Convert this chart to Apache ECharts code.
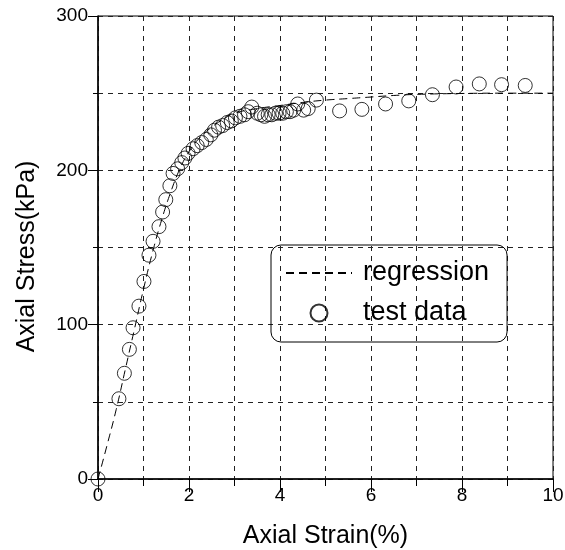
<!DOCTYPE html>
<html>
<head>
<meta charset="utf-8">
<script src="https://cdn.jsdelivr.net/npm/echarts@6/dist/echarts.min.js"></script>
<style>html,body{margin:0;padding:0;background:#fff}#c{width:565px;height:550px}</style>
</head>
<body>
<div id="c"></div>
<script>
const testStrain = [0, 0.46, 0.58, 0.69, 0.77, 0.90, 1.01, 1.12, 1.21, 1.34, 1.42, 1.49, 1.58, 1.65, 1.75, 1.84, 1.91, 1.98, 2.09, 2.18, 2.28, 2.38, 2.48, 2.56, 2.65, 2.74, 2.84, 2.93, 3.02, 3.12, 3.22, 3.30, 3.38, 3.50, 3.58, 3.66, 3.74, 3.82, 3.90, 3.98, 4.06, 4.14, 4.22, 4.30, 4.39, 4.52, 4.62, 4.80, 5.31, 5.80, 6.32, 6.83, 7.35, 7.87, 8.38, 8.87, 9.39];
const testStress = [0, 52, 68.5, 84, 98, 112, 128, 145, 154, 163.5, 173, 181, 190, 198, 201, 205, 208, 211, 214, 216, 218, 220, 223, 226, 228, 229, 231, 232, 234, 235, 236, 238, 241, 237, 236, 235, 236, 236, 237, 237, 237, 238, 238, 239, 243, 239, 240, 245.5, 238.5, 239.5, 243, 245, 249, 254, 256, 255.5, 255];
const regStrain = [0, 0.2, 0.4, 0.6, 0.8, 1.0, 1.2, 1.4, 1.6, 1.8, 2.0, 2.2, 2.5, 2.8, 3.0, 3.5, 4.0, 4.5, 5.0, 5.5, 6.0, 6.5, 7.0, 8.0, 9.0, 10.0];
const regStress = [0, 22, 45, 71, 97, 123, 147, 168, 186, 201, 212, 220, 228, 234, 237, 240, 242, 244, 245.5, 246.5, 247.5, 248.5, 249.2, 249.8, 250, 250];
const xTicks = [0, 2, 4, 6, 8, 10];
const yTicks = [0, 100, 200, 300];

const FONT = '"Liberation Sans", Arial, sans-serif';
const grid = {type: [5, 5], color: '#222', width: 1};
const chart = echarts.init(document.getElementById('c'));
chart.setOption({
  animation: false,
  backgroundColor: '#fff',
  grid: {left: 98, right: 12, top: 16, bottom: 71, show: true, borderColor: '#000', borderWidth: 1, backgroundColor: 'transparent', containLabel: false, outerBoundsMode: 'none'},
  xAxis: {
    type: 'value', min: xTicks[0], max: xTicks[xTicks.length - 1], interval: 2,
    name: 'Axial Strain(%)', nameLocation: 'middle', nameGap: 45,
    nameTextStyle: {fontFamily: FONT, fontSize: 25, color: '#000'},
    axisLine: {lineStyle: {color: '#000', width: 1.5}},
    axisTick: {length: 13, lineStyle: {color: '#000', width: 1}},
    minorTick: {show: true, splitNumber: 2, length: 7, lineStyle: {color: '#000', width: 1}},
    splitLine: {show: true, lineStyle: grid},
    minorSplitLine: {show: true, lineStyle: grid},
    axisLabel: {fontFamily: FONT, fontSize: 19, color: '#000', margin: 7}
  },
  yAxis: {
    type: 'value', min: yTicks[0], max: yTicks[yTicks.length - 1], interval: 100,
    name: 'Axial Stress(kPa)', nameLocation: 'middle', nameGap: 58,
    nameTextStyle: {fontFamily: FONT, fontSize: 25, color: '#000', padding: [0, 18, 0, 0]},
    axisLine: {show: true, lineStyle: {color: '#000', width: 1.5}},
    axisTick: {show: true, length: 10, lineStyle: {color: '#000', width: 1}},
    minorTick: {show: true, splitNumber: 2, length: 5, lineStyle: {color: '#000', width: 1}},
    splitLine: {show: true, lineStyle: grid},
    minorSplitLine: {show: true, lineStyle: grid},
    axisLabel: {fontFamily: FONT, fontSize: 19, color: '#000', margin: 10}
  },
  legend: {
    orient: 'vertical', left: 271, top: 245,
    padding: [13, 18, 14, 14], itemGap: 10,
    itemWidth: 66, itemHeight: 17,
    borderColor: '#000', borderWidth: 1, borderRadius: 10,
    textStyle: {fontFamily: FONT, fontSize: 27, color: '#000', lineHeight: 30, padding: [0, 0, 0, 6]},
    data: [
      {name: 'regression', itemStyle: {opacity: 0}},
      {name: 'test data'}
    ]
  },
  series: [
    {
      name: 'regression', type: 'line', symbol: 'none', smooth: true,
      data: regStrain.map((x, i) => [x, regStress[i]]),
      lineStyle: {color: '#000', width: 1, type: [8, 5]},
      itemStyle: {color: '#000'}, z: 3
    },
    {
      name: 'test data', type: 'scatter', symbol: 'circle', symbolSize: 14,
      data: testStrain.map((x, i) => [x, testStress[i]]),
      itemStyle: {color: 'rgba(0,0,0,0)', borderColor: '#000', borderWidth: 1}, z: 4
    }
  ]
});
</script>
</body>
</html>
